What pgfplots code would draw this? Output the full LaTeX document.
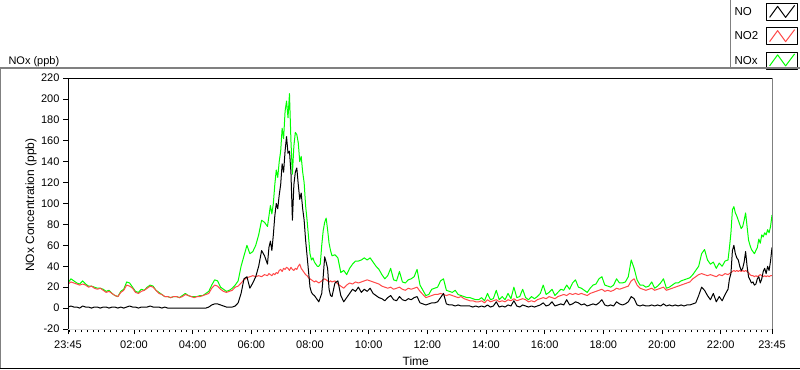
\documentclass[border=0pt]{standalone}
\usepackage{pgfplots}
\pgfplotsset{compat=1.18}
\usepackage{pgfplotstable}
\usepackage{fontspec}
\setmainfont{Liberation Sans}
\definecolor{noxgreen}{RGB}{0,255,0}
\definecolor{no2red}{RGB}{255,72,72}
\definecolor{framegray}{RGB}{128,128,128}

\pgfplotstableread{
t NO NO2 NOx
0.0 1 23 24
0.1 2 25 28
0.2 1 24 26
0.3 1 23 24
0.4 0 22 23
0.5 2 23 26
0.6 1 22 23
0.7 1 20 21
0.8 0 21 21
0.9 1 19 20
1.0 1 18 19
1.1 0 19 19
1.2 1 17 18
1.3 1 15 16
1.4 0 16 17
1.5 1 14 14
1.6 1 12 12
1.7 0 11 11
1.8 1 15 16
1.9 0 17 18
2.0 1 22 25
2.1 2 21 24
2.2 1 19 20
2.3 1 15 16
2.4 0 14 15
2.5 1 16 18
2.6 1 17 17
2.7 1 19 20
2.8 2 21 22
2.9 1 20 21
3.0 1 17 17
3.1 1 14 15
3.2 0 13 13
3.3 1 11 11
3.4 0 11 11
3.5 0 10 10
3.6 0 11 11
3.7 0 11 11
3.8 0 10 10
3.9 0 11 12
4.0 0 13 14
4.1 0 12 12
4.2 0 11 11
4.3 0 10 11
4.4 0 11 11
4.5 0 11 12
4.6 0 12 12
4.7 0 13 14
4.8 1 14 16
4.9 3 19 22
5.0 4 22 27
5.1 4 21 26
5.2 3 18 20
5.3 2 16 18
5.4 1 15 16
5.5 1 16 17
5.6 1 17 19
5.7 2 20 22
5.8 5 21 26
5.9 14 24 40
6.0 28 27 50
6.1 30 29 60
6.2 19 30 52
6.3 24 31 54
6.4 30 30 60
6.5 40 31 70
6.6 55 30 84
6.7 50 32 82
6.8 42 31 78
6.85 58 33 88
6.9 64 32 98
6.95 55 31 90
7.0 70 33 100
7.05 88 32 118
7.1 100 34 132
7.15 95 33 125
7.2 108 36 140
7.25 118 37 150
7.3 138 35 172
7.35 130 38 162
7.4 150 37 188
7.45 164 39 198
7.5 148 38 182
7.55 150 36 205
7.6 130 39 160
7.65 84 37 128
7.7 118 36 155
7.75 130 38 168
7.8 134 37 166
7.85 118 40 158
7.9 104 42 140
7.95 110 38 145
8.0 95 36 130
8.05 84 34 120
8.1 65 32 98
8.15 50 31 84
8.2 35 29 68
8.25 20 28 52
8.3 15 27 46
8.35 13 26 48
8.4 12 25 44
8.45 10 26 42
8.5 8 25 40
8.55 6 24 40
8.6 10 25 42
8.65 14 26 60
8.7 30 27 74
8.75 49 28 82
8.8 44 27 86
8.85 38 26 75
8.9 18 25 62
8.95 12 26 55
9.0 11 25 50
9.1 24 26 51
9.2 26 23 48
9.3 12 21 34
9.4 6 19 36
9.5 10 22 32
9.6 14 24 38
9.7 18 23 42
9.8 16 25 45
9.9 20 24 45
10.0 15 25 46
10.1 18 26 48
10.2 16 27 46
10.3 19 26 48
10.4 14 25 44
10.5 12 24 40
10.6 10 23 37
10.7 9 21 32
10.8 7 20 28
10.9 10 19 31
11.0 12 20 38
11.1 8 18 27
11.2 7 19 26
11.3 11 20 35
11.4 8 18 25
11.5 7 17 24
11.6 9 19 27
11.7 8 18 28
11.8 10 19 30
11.9 11 20 37
12.0 5 16 22
12.1 4 13 17
12.2 3 10 12
12.3 4 11 13
12.4 5 12 18
12.5 5 13 19
12.6 6 13 20
12.7 10 14 26
12.8 14 13 28
12.9 4 12 17
13.0 3 13 16
13.1 3 12 15
13.2 2 11 17
13.3 3 10 13
13.4 2 11 12
13.5 2 9 11
13.6 2 8 10
13.7 2 7 10
13.8 1 7 9
13.9 2 6 8
14.0 1 6 8
14.1 2 7 10
14.2 1 5 7
14.3 3 8 14
14.4 1 6 8
14.5 2 7 9
14.6 6 8 17
14.7 1 6 8
14.8 2 7 11
14.9 1 6 8
15.0 3 8 14
15.1 2 7 9
15.2 7 9 20
15.3 2 7 10
15.4 1 8 11
15.5 3 9 18
15.6 2 8 10
15.7 1 6 8
15.8 2 7 11
15.9 1 6 9
16.0 2 8 11
16.1 3 9 14
16.2 5 10 22
16.3 2 9 13
16.4 3 11 15
16.5 6 10 18
16.6 2 9 12
16.7 3 11 15
16.8 4 12 18
16.9 3 13 17
17.0 8 12 22
17.1 3 14 18
17.2 4 13 24
17.3 6 14 27
17.4 5 13 20
17.5 3 14 19
17.6 4 13 17
17.7 2 12 15
17.8 3 14 19
17.9 4 15 22
18.0 3 16 23
18.1 5 17 28
18.2 8 18 30
18.3 3 16 22
18.4 2 17 21
18.5 3 16 20
18.6 2 17 22
18.7 6 19 28
18.8 4 18 24
18.9 3 19 24
19.0 4 20 25
19.1 6 21 30
19.2 11 26 46
19.3 9 28 38
19.4 3 22 27
19.5 2 19 22
19.6 3 18 22
19.7 2 17 20
19.8 2 18 21
19.9 3 19 25
20.0 2 17 19
20.1 3 18 21
20.2 2 19 24
20.3 4 20 28
20.4 2 17 19
20.5 3 18 20
20.6 2 19 22
20.7 3 20 24
20.8 2 21 24
20.9 3 22 26
21.0 2 23 27
21.1 3 24 28
21.2 3 25 29
21.3 4 28 32
21.4 5 30 36
21.5 12 32 40
21.6 20 33 52
21.7 17 32 56
21.8 12 31 46
21.9 8 32 42
22.0 14 31 44
22.1 6 30 38
22.2 11 32 43
22.3 7 31 40
22.4 13 33 45
22.5 18 32 46
22.55 28 33 58
22.6 33 34 72
22.65 55 35 94
22.7 60 36 97
22.75 52 35 91
22.8 48 36 88
22.85 46 35 84
22.9 40 36 80
22.95 36 35 76
23.0 38 36 78
23.05 44 35 84
23.1 54 36 91
23.15 40 35 78
23.2 30 34 65
23.25 27 32 60
23.3 24 31 56
23.35 25 31 54
23.4 22 30 52
23.45 23 31 55
23.5 28 30 58
23.55 30 31 66
23.6 24 32 62
23.65 28 31 70
23.7 35 30 68
23.75 38 31 72
23.8 33 30 70
23.85 40 31 75
23.9 36 30 72
23.95 45 31 78
24.0 58 31 89
}\datatable

\begin{document}
\begin{tikzpicture}[x=1bp,y=1bp]
\useasboundingbox (0,0) rectangle (800,369);
\fill[white] (0,0) rectangle (800,369);
\begin{axis}[
  at={(68bp,40bp)}, anchor=south west,
  scale only axis, width=704bp, height=251bp,
  xmin=0, xmax=24, ymin=-20, ymax=220,
  axis line style={draw=none},
  tick pos=left, tick align=outside,
  xtick={0,2.25,4.25,6.25,8.25,10.25,12.25,14.25,16.25,18.25,20.25,22.25,24},
  xticklabels={23:45,02:00,04:00,06:00,08:00,10:00,12:00,14:00,16:00,18:00,20:00,22:00,23:45},
  minor xtick={0.05,0.25,...,23.9},
  ytick={-20,0,20,40,60,80,100,120,140,160,180,200,220},
  yticklabels={-20,0,20,40,60,80,100,120,140,160,180,200,220},
  major tick length=5bp, minor tick length=3bp,
  every tick/.style={black, line width=0.75bp},
  tick label style={font=\fontsize{11bp}{13bp}\selectfont},
  xticklabel style={yshift=-3bp},
  xlabel={Time}, ylabel={NOx Concentration (ppb)},
  label style={font=\fontsize{12bp}{14bp}\selectfont},
  xlabel style={at={(axis description cs:0.494,-0.1275)}, anchor=center},
  ylabel style={at={(axis description cs:-0.0526,0.494)}, anchor=center},
  title={NOx (ppb)},
  title style={at={(axis description cs:-0.0895,1.0398)}, anchor=west, font=\fontsize{11bp}{13bp}\selectfont},
  reverse legend,
  legend cell align=left, legend plot pos=right,
  legend style={at={(axis description cs:1.0369,1.2988)}, anchor=north east, draw=none, fill=none, inner sep=0pt, outer sep=0pt, row sep=6.5bp, column sep=7bp, font=\fontsize{11.5bp}{13bp}\selectfont, nodes={inner sep=1bp}},
  legend image code/.code={
    \draw[black,line width=0.75bp,fill=white] (0bp,-8bp) rectangle (31bp,9bp);
    \draw[#1,line join=round] (3bp,-5bp) -- (11bp,6bp) -- (19bp,-5bp) -- (28bp,7bp);
  },
]
\addplot[noxgreen, line width=1bp, line join=round] table[x=t,y=NOx]{\datatable};
\addlegendentry{NOx}
\addplot[no2red, line width=1bp, line join=round] table[x=t,y=NO2]{\datatable};
\addlegendentry{NO2}
\addplot[black, line width=1bp, line join=round] table[x=t,y=NO]{\datatable};
\addlegendentry{NO}
\end{axis}
% plot-area frame
\draw[black, line width=1bp] (68,40) -- (68,291) -- (772,291);
\draw[framegray, line width=1bp] (772,291) -- (772,40);
\draw[gray!25, line width=1bp] (68,40) -- (772,40);
% panel frame
\draw[framegray, line width=1.5bp] (0,301) -- (800,301);
\draw[framegray, line width=1.5bp] (0.75,0) -- (0.75,301);
\draw[black, line width=1bp] (0,0.5) -- (800,0.5);
\draw[framegray, line width=1.5bp] (730.5,301) -- (730.5,369);
\end{tikzpicture}
\end{document}
